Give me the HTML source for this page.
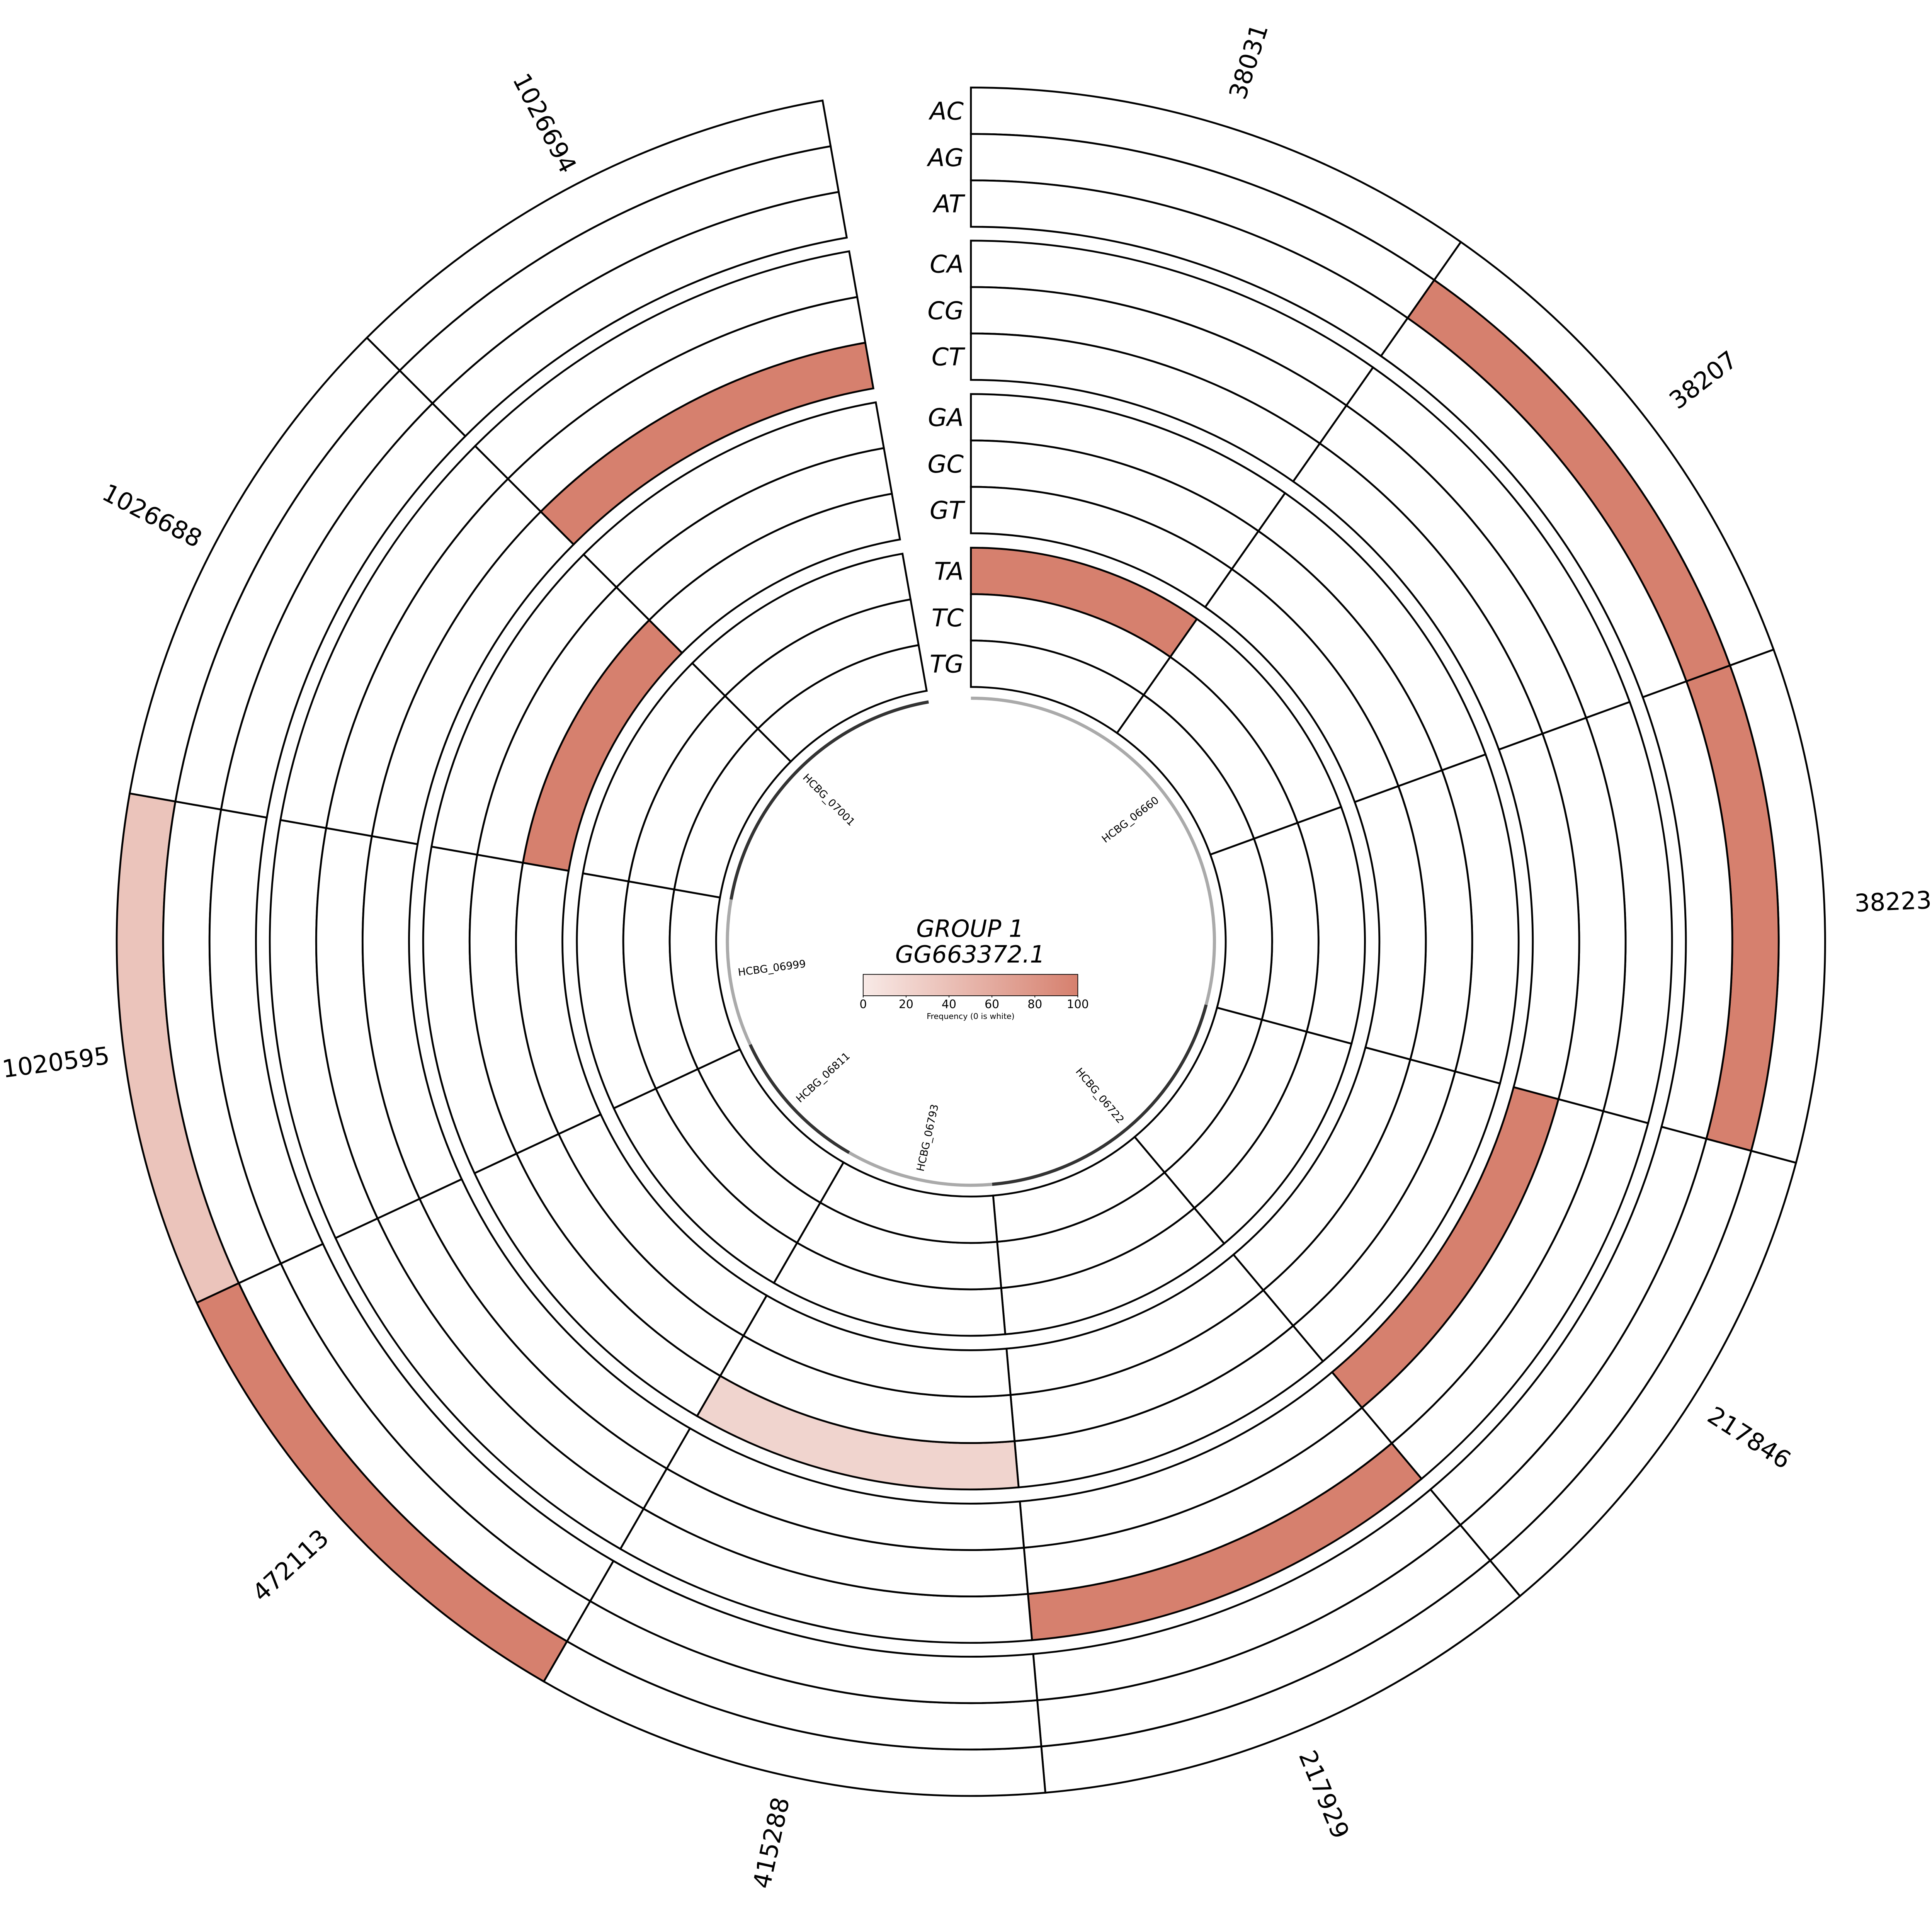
<!DOCTYPE html>
<html>
<head>
<meta charset="utf-8">
<style>
html,body{margin:0;padding:0;background:#fff;overflow:hidden;}
svg{display:block;position:absolute;left:0;top:0;width:100vw;height:97.9067vw;}
text{font-family:"DejaVu Sans","Liberation Sans",sans-serif;}
</style>
</head>
<body>
<svg xmlns="http://www.w3.org/2000/svg" xmlns:xlink="http://www.w3.org/1999/xlink" viewBox="0 0 6688 6548" preserveAspectRatio="none">
<defs>
<path id="t0" d="M0,-2957A2957,2957 0 0 1 1696.06,-2422.23L1603.89,-2290.59A2796.3,2796.3 0 0 0 0,-2796.3Z"/>
<path id="t1" d="M0,-2796.3A2796.3,2796.3 0 0 1 1603.89,-2290.59L1511.77,-2159.04A2635.7,2635.7 0 0 0 0,-2635.7Z"/>
<path id="t2" d="M0,-2635.7A2635.7,2635.7 0 0 1 1511.77,-2159.04L1419.60,-2027.40A2475,2475 0 0 0 0,-2475Z"/>
<path id="t3" d="M0,-2427A2427,2427 0 0 1 1392.07,-1988.08L1299.90,-1856.44A2266.3,2266.3 0 0 0 0,-2266.3Z"/>
<path id="t4" d="M0,-2266.3A2266.3,2266.3 0 0 1 1299.90,-1856.44L1207.78,-1724.89A2105.7,2105.7 0 0 0 0,-2105.7Z"/>
<path id="t5" d="M0,-2105.7A2105.7,2105.7 0 0 1 1207.78,-1724.89L1115.61,-1593.25A1945,1945 0 0 0 0,-1945Z"/>
<path id="t6" d="M0,-1896A1896,1896 0 0 1 1087.50,-1553.11L995.33,-1421.47A1735.3,1735.3 0 0 0 0,-1735.3Z"/>
<path id="t7" d="M0,-1735.3A1735.3,1735.3 0 0 1 995.33,-1421.47L903.21,-1289.92A1574.7,1574.7 0 0 0 0,-1574.7Z"/>
<path id="t8" d="M0,-1574.7A1574.7,1574.7 0 0 1 903.21,-1289.92L811.04,-1158.28A1414,1414 0 0 0 0,-1414Z"/>
<path id="t9" d="M0,-1364A1364,1364 0 0 1 782.36,-1117.32L690.18,-985.69A1203.3,1203.3 0 0 0 0,-1203.3Z"/>
<path id="t10" d="M0,-1203.3A1203.3,1203.3 0 0 1 690.18,-985.69L598.07,-854.13A1042.7,1042.7 0 0 0 0,-1042.7Z"/>
<path id="t11" d="M0,-1042.7A1042.7,1042.7 0 0 1 598.07,-854.13L505.89,-722.49A882,882 0 0 0 0,-882Z"/>
<linearGradient id="cb" x1="0" y1="0" x2="1" y2="0">
<stop offset="0" stop-color="#f8eae7"/>
<stop offset="1" stop-color="#d6806e"/>
</linearGradient>
</defs>

<rect x="0" y="0" width="6688" height="6548" fill="#fff"/>

<g transform="translate(3361,3260)" stroke="#000" stroke-width="6.4" stroke-linejoin="miter">
<g transform="rotate(0)">
<use xlink:href="#t0" fill="#fff"/><use xlink:href="#t1" fill="#fff"/><use xlink:href="#t2" fill="#fff"/>
<use xlink:href="#t3" fill="#fff"/><use xlink:href="#t4" fill="#fff"/><use xlink:href="#t5" fill="#fff"/>
<use xlink:href="#t6" fill="#fff"/><use xlink:href="#t7" fill="#fff"/><use xlink:href="#t8" fill="#fff"/>
<use xlink:href="#t9" fill="#d6806e"/><use xlink:href="#t10" fill="#fff"/><use xlink:href="#t11" fill="#fff"/>
</g>
<g transform="rotate(35)">
<use xlink:href="#t0" fill="#fff"/><use xlink:href="#t1" fill="#d6806e"/><use xlink:href="#t2" fill="#fff"/>
<use xlink:href="#t3" fill="#fff"/><use xlink:href="#t4" fill="#fff"/><use xlink:href="#t5" fill="#fff"/>
<use xlink:href="#t6" fill="#fff"/><use xlink:href="#t7" fill="#fff"/><use xlink:href="#t8" fill="#fff"/>
<use xlink:href="#t9" fill="#fff"/><use xlink:href="#t10" fill="#fff"/><use xlink:href="#t11" fill="#fff"/>
</g>
<g transform="rotate(70)">
<use xlink:href="#t0" fill="#fff"/><use xlink:href="#t1" fill="#d6806e"/><use xlink:href="#t2" fill="#fff"/>
<use xlink:href="#t3" fill="#fff"/><use xlink:href="#t4" fill="#fff"/><use xlink:href="#t5" fill="#fff"/>
<use xlink:href="#t6" fill="#fff"/><use xlink:href="#t7" fill="#fff"/><use xlink:href="#t8" fill="#fff"/>
<use xlink:href="#t9" fill="#fff"/><use xlink:href="#t10" fill="#fff"/><use xlink:href="#t11" fill="#fff"/>
</g>
<g transform="rotate(105)">
<use xlink:href="#t0" fill="#fff"/><use xlink:href="#t1" fill="#fff"/><use xlink:href="#t2" fill="#fff"/>
<use xlink:href="#t3" fill="#fff"/><use xlink:href="#t4" fill="#fff"/><use xlink:href="#t5" fill="#d6806e"/>
<use xlink:href="#t6" fill="#fff"/><use xlink:href="#t7" fill="#fff"/><use xlink:href="#t8" fill="#fff"/>
<use xlink:href="#t9" fill="#fff"/><use xlink:href="#t10" fill="#fff"/><use xlink:href="#t11" fill="#fff"/>
</g>
<g transform="rotate(140)">
<use xlink:href="#t0" fill="#fff"/><use xlink:href="#t1" fill="#fff"/><use xlink:href="#t2" fill="#fff"/>
<use xlink:href="#t3" fill="#d6806e"/><use xlink:href="#t4" fill="#fff"/><use xlink:href="#t5" fill="#fff"/>
<use xlink:href="#t6" fill="#fff"/><use xlink:href="#t7" fill="#fff"/><use xlink:href="#t8" fill="#fff"/>
<use xlink:href="#t9" fill="#fff"/><use xlink:href="#t10" fill="#fff"/><use xlink:href="#t11" fill="#fff"/>
</g>
<g transform="rotate(175)">
<use xlink:href="#t0" fill="#fff"/><use xlink:href="#t1" fill="#fff"/><use xlink:href="#t2" fill="#fff"/>
<use xlink:href="#t3" fill="#fff"/><use xlink:href="#t4" fill="#fff"/><use xlink:href="#t5" fill="#fff"/>
<use xlink:href="#t6" fill="#f0d4ce"/><use xlink:href="#t7" fill="#fff"/><use xlink:href="#t8" fill="#fff"/>
<use xlink:href="#t9" fill="#fff"/><use xlink:href="#t10" fill="#fff"/><use xlink:href="#t11" fill="#fff"/>
</g>
<g transform="rotate(210)">
<use xlink:href="#t0" fill="#d6806e"/><use xlink:href="#t1" fill="#fff"/><use xlink:href="#t2" fill="#fff"/>
<use xlink:href="#t3" fill="#fff"/><use xlink:href="#t4" fill="#fff"/><use xlink:href="#t5" fill="#fff"/>
<use xlink:href="#t6" fill="#fff"/><use xlink:href="#t7" fill="#fff"/><use xlink:href="#t8" fill="#fff"/>
<use xlink:href="#t9" fill="#fff"/><use xlink:href="#t10" fill="#fff"/><use xlink:href="#t11" fill="#fff"/>
</g>
<g transform="rotate(245)">
<use xlink:href="#t0" fill="#ebc4bb"/><use xlink:href="#t1" fill="#fff"/><use xlink:href="#t2" fill="#fff"/>
<use xlink:href="#t3" fill="#fff"/><use xlink:href="#t4" fill="#fff"/><use xlink:href="#t5" fill="#fff"/>
<use xlink:href="#t6" fill="#fff"/><use xlink:href="#t7" fill="#fff"/><use xlink:href="#t8" fill="#fff"/>
<use xlink:href="#t9" fill="#fff"/><use xlink:href="#t10" fill="#fff"/><use xlink:href="#t11" fill="#fff"/>
</g>
<g transform="rotate(280)">
<use xlink:href="#t0" fill="#fff"/><use xlink:href="#t1" fill="#fff"/><use xlink:href="#t2" fill="#fff"/>
<use xlink:href="#t3" fill="#fff"/><use xlink:href="#t4" fill="#fff"/><use xlink:href="#t5" fill="#fff"/>
<use xlink:href="#t6" fill="#fff"/><use xlink:href="#t7" fill="#fff"/><use xlink:href="#t8" fill="#d6806e"/>
<use xlink:href="#t9" fill="#fff"/><use xlink:href="#t10" fill="#fff"/><use xlink:href="#t11" fill="#fff"/>
</g>
<g transform="rotate(315)">
<use xlink:href="#t0" fill="#fff"/><use xlink:href="#t1" fill="#fff"/><use xlink:href="#t2" fill="#fff"/>
<use xlink:href="#t3" fill="#fff"/><use xlink:href="#t4" fill="#fff"/><use xlink:href="#t5" fill="#d6806e"/>
<use xlink:href="#t6" fill="#fff"/><use xlink:href="#t7" fill="#fff"/><use xlink:href="#t8" fill="#fff"/>
<use xlink:href="#t9" fill="#fff"/><use xlink:href="#t10" fill="#fff"/><use xlink:href="#t11" fill="#fff"/>
</g>

<g fill="none" stroke-width="11" stroke-linecap="butt">
<path d="M0,-843A843,843 0 0 1 814.28,218.18" stroke="#aaaaaa"/>
<path d="M814.28,218.18A843,843 0 0 1 73.47,839.79" stroke="#333333"/>
<path d="M73.47,839.79A843,843 0 0 1 -421.5,730.06" stroke="#aaaaaa"/>
<path d="M-421.5,730.06A843,843 0 0 1 -764.02,356.27" stroke="#333333"/>
<path d="M-764.02,356.27A843,843 0 0 1 -830.19,-146.39" stroke="#aaaaaa"/>
<path d="M-830.19,-146.39A843,843 0 0 1 -146.39,-830.19" stroke="#333333"/>
</g>
</g>

<g transform="translate(3361,3260)" font-size="84" fill="#000" stroke="none" text-anchor="middle">
<text transform="rotate(17.5) translate(0,-3195) rotate(-90)" dy="0.35em">38031</text>
<text transform="rotate(52.5) translate(0,-3195) rotate(-90)" dy="0.35em">38207</text>
<text transform="rotate(87.5) translate(0,-3195) rotate(-90)" dy="0.35em">38223</text>
<text transform="rotate(122.5) translate(0,-3195) rotate(-90)" dy="0.35em">217846</text>
<text transform="rotate(157.5) translate(0,-3195) rotate(-90)" dy="0.35em">217929</text>
<text transform="rotate(192.5) translate(0,-3195) rotate(90)" dy="0.35em">415288</text>
<text transform="rotate(227.5) translate(0,-3195) rotate(90)" dy="0.35em">472113</text>
<text transform="rotate(262.5) translate(0,-3195) rotate(90)" dy="0.35em">1020595</text>
<text transform="rotate(297.5) translate(0,-3195) rotate(90)" dy="0.35em">1026688</text>
<text transform="rotate(332.5) translate(0,-3195) rotate(90)" dy="0.35em">1026694</text>
</g>

<g transform="translate(3361,3260)" font-size="36" fill="#000" stroke="none" text-anchor="middle">
<text transform="rotate(52.5) translate(0,-695) rotate(-90)" dy="0.35em">HCBG_06660</text>
<text transform="rotate(140) translate(0,-695) rotate(-90)" dy="0.35em">HCBG_06722</text>
<text transform="rotate(192.5) translate(0,-695) rotate(90)" dy="0.35em">HCBG_06793</text>
<text transform="rotate(227.5) translate(0,-695) rotate(90)" dy="0.35em">HCBG_06811</text>
<text transform="rotate(262.5) translate(0,-695) rotate(90)" dy="0.35em">HCBG_06999</text>
<text transform="rotate(315) translate(0,-695) rotate(90)" dy="0.35em">HCBG_07001</text>
</g>

<g font-size="85" font-style="italic" fill="#000" text-anchor="end">
<text x="3336" y="414">AC</text>
<text x="3336" y="575">AG</text>
<text x="3336" y="735">AT</text>
<text x="3336" y="944">CA</text>
<text x="3336" y="1105">CG</text>
<text x="3336" y="1265">CT</text>
<text x="3336" y="1475">GA</text>
<text x="3336" y="1636">GC</text>
<text x="3336" y="1796">GT</text>
<text x="3336" y="2007">TA</text>
<text x="3336" y="2168">TC</text>
<text x="3336" y="2328">TG</text>
</g>

<g font-size="82" font-style="italic" fill="#000" text-anchor="middle">
<text x="3358" y="3243">GROUP 1</text>
<text x="3358" y="3332">GG663372.1</text>
</g>

<rect x="2988" y="3373" width="743" height="74" fill="url(#cb)" stroke="#000" stroke-width="2.5"/>
<g stroke="#000" stroke-width="2.5">
<line x1="2988" y1="3447" x2="2988" y2="3453"/>
<line x1="3136.6" y1="3447" x2="3136.6" y2="3453"/>
<line x1="3285.2" y1="3447" x2="3285.2" y2="3453"/>
<line x1="3433.8" y1="3447" x2="3433.8" y2="3453"/>
<line x1="3582.4" y1="3447" x2="3582.4" y2="3453"/>
<line x1="3731" y1="3447" x2="3731" y2="3453"/>
</g>
<g font-size="40" fill="#000" text-anchor="middle">
<text x="2988" y="3490">0</text>
<text x="3136.6" y="3490">20</text>
<text x="3285.2" y="3490">40</text>
<text x="3433.8" y="3490">60</text>
<text x="3582.4" y="3490">80</text>
<text x="3731" y="3490">100</text>
</g>
<text x="3360" y="3527" font-size="27.5" fill="#000" text-anchor="middle">Frequency (0 is white)</text>
</svg>
</body>
</html>
